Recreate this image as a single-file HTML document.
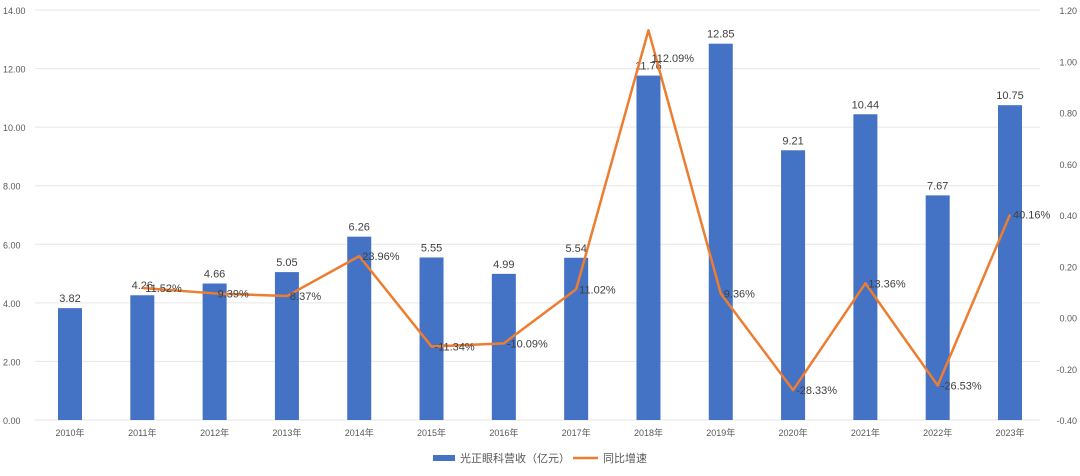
<!DOCTYPE html>
<html><head><meta charset="utf-8"><style>
body{margin:0;background:#fff;}
svg text{font-family:"Liberation Sans","Noto Sans CJK SC",sans-serif;}
</style></head><body>
<svg id="c" width="1080" height="471"></svg>
<script>
const categories=["2010年","2011年","2012年","2013年","2014年","2015年","2016年","2017年","2018年","2019年","2020年","2021年","2022年","2023年"];
const revenue=[3.82,4.26,4.66,5.05,6.26,5.55,4.99,5.54,11.76,12.85,9.21,10.44,7.67,10.75];
const growth=[null,0.1152,0.0939,0.0837,0.2396,-0.1134,-0.1009,0.1102,1.1209,0.0936,-0.2833,0.1336,-0.2653,0.4016];
const leftTicks=[0,2,4,6,8,10,12,14];
const rightTicks=[-0.4,-0.2,0,0.2,0.4,0.6,0.8,1.0,1.2];
const NS="http://www.w3.org/2000/svg";
const svg=document.getElementById('c');
const y0=420,yTop=10,x0=70,dx=(1010-70)/13;
const yL=v=>y0-(v/14)*(y0-yTop);
const yR=v=>y0-((v+0.4)/1.6)*(y0-yTop);
const xC=i=>x0+i*dx;
function mk(tag,attrs,txt){const e=document.createElementNS(NS,tag);for(const k in attrs)e.setAttribute(k,attrs[k]);if(txt!=null)e.textContent=txt;svg.appendChild(e);return e;}
leftTicks.forEach(t=>{
  const g=mk('line',{x1:35,x2:1040,y1:yL(t),y2:yL(t),stroke:'#e6e6e6','stroke-width':1});
  
  
  const l=mk('text',{x:3,y:yL(t)+4,'font-size':9,fill:'#595959'},t.toFixed(2));
  
  
});
rightTicks.forEach(t=>{
  const l=mk('text',{x:1077,y:yR(t)+4,'font-size':9,fill:'#595959','text-anchor':'end'},t.toFixed(2));
  
  
});
categories.forEach((c,i)=>{
  const b=mk('rect',{x:xC(i)-12,y:yL(revenue[i]),width:24,height:y0-yL(revenue[i]),fill:'#4472c4'});
  
  
  const v=mk('text',{x:xC(i),y:yL(revenue[i])-6,'font-size':11,fill:'#404040','text-anchor':'middle'},revenue[i].toFixed(2));
  
  
  const t=mk('text',{x:xC(i),y:436,'font-size':9,fill:'#595959','text-anchor':'middle'},c);
  
  
});
let d='';
growth.forEach((g,i)=>{if(g==null)return;d+=(d?'L':'M')+xC(i)+','+yR(g);});
const ln=mk('path',{d:d,fill:'none',stroke:'#ed7d31','stroke-width':2.5,'stroke-linejoin':'round'});


growth.forEach((g,i)=>{if(g==null)return;
  const t=mk('text',{x:xC(i)+3,y:Math.max(yR(g)+4,62),'font-size':11,fill:'#404040'},(g*100).toFixed(2)+'%');
  
  
});
const lr=mk('rect',{x:433,y:455,width:22,height:6,fill:'#4472c4'});


const lt=mk('text',{x:460,y:462,'font-size':11,fill:'#595959'},'光正眼科营收（亿元）');


const ll=mk('line',{x1:573,x2:598,y1:458,y2:458,stroke:'#ed7d31','stroke-width':2.5});


const lt2=mk('text',{x:603,y:462,'font-size':11,fill:'#595959'},'同比增速');


</script>
</body></html>
